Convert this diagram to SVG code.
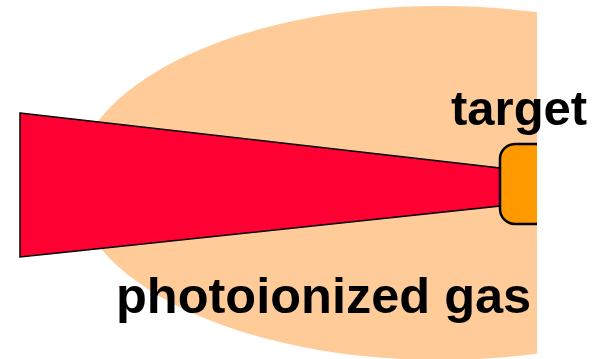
<svg xmlns="http://www.w3.org/2000/svg" width="600" height="359" viewBox="0 0 600 359">
<defs>
<style>
.lbl{font-family:"Liberation Sans",Arial,sans-serif;font-weight:bold;font-size:49px;fill:#000}
</style>
<clipPath id="clip"><rect x="0" y="0" width="537" height="359"/></clipPath>
</defs>
<rect width="600" height="359" fill="#fff"/>
<g id="gas" clip-path="url(#clip)">
<ellipse cx="440" cy="183" rx="365" ry="177" fill="#FFCC99"/>
</g>
<g id="beam">
<polygon points="20,113 500,168 500,206 20,257" fill="#FF0033" stroke="#000" stroke-width="1.5" stroke-linejoin="miter"/>
</g>
<g id="target" clip-path="url(#clip)">
<rect x="500" y="144" width="70" height="80" rx="15" ry="15" fill="#FF9900" stroke="#000" stroke-width="2.5"/>
</g>
<g id="labels">
<text class="lbl" x="451" y="125">target</text>
<text class="lbl" x="116" y="313" style="font-size:50.5px">photoionized gas</text>
</g>
</svg>
